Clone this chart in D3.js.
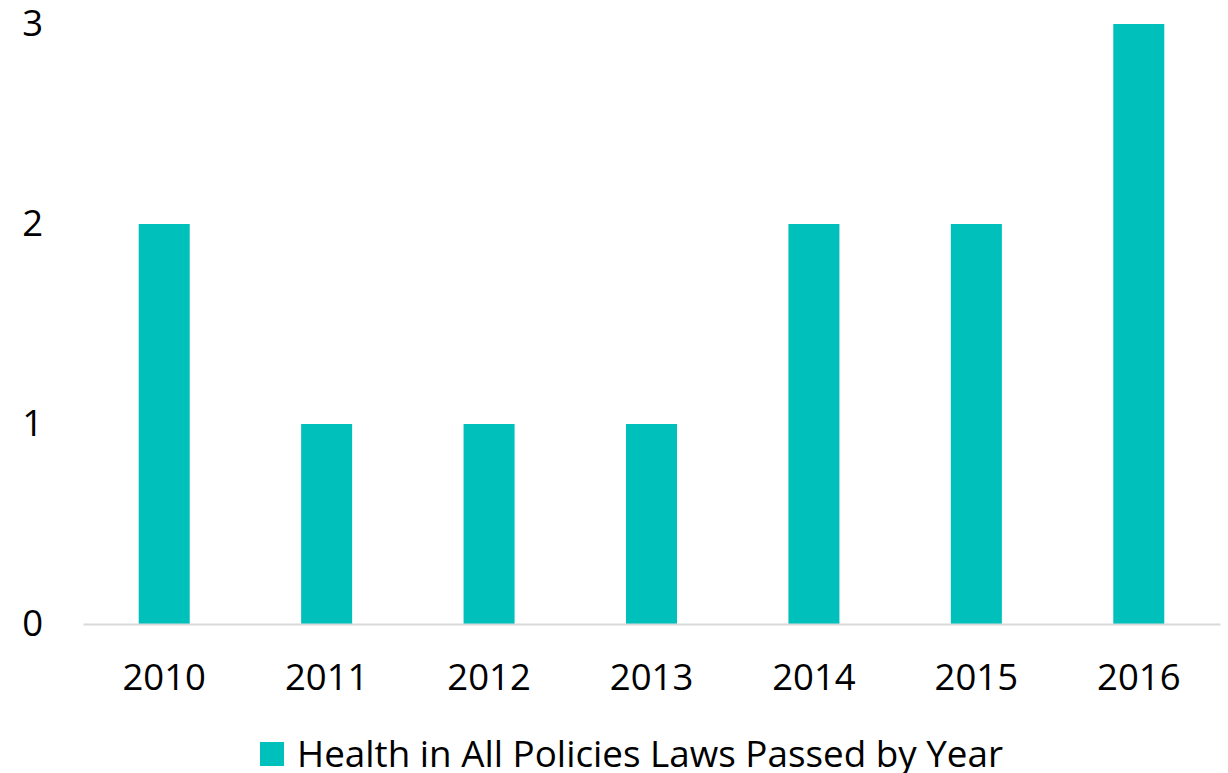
<!DOCTYPE html>
<html>
<head>
<meta charset="utf-8">
<script src="https://cdn.jsdelivr.net/npm/d3@7"></script>
<style>
  html, body { margin: 0; padding: 0; background: #fff; }
  svg text { font-family: "Open Sans", "Noto Sans", sans-serif; fill: #000; }
</style>
</head>
<body>
<svg id="chart" width="1228" height="773"></svg>
<script>
// Health in All Policies laws passed, by year
const years = ["2010", "2011", "2012", "2013", "2014", "2015", "2016"];
const lawsPassed = [2, 1, 1, 1, 2, 2, 3];
const yTicks = [0, 1, 2, 3];
const seriesName = "Health in All Policies Laws Passed by Year";

const barColor = "#00C0BB";
const axisColor = "#D9D9D9";

const svg = d3.select("#chart");
const plot = { left: 83, right: 1220, top: 24, bottom: 624 };

const x = d3.scaleBand()
  .domain(years)
  .range([plot.left, plot.right])
  .paddingInner(0.686)
  .paddingOuter(0.343);

const y = d3.scaleLinear()
  .domain([0, 3])
  .range([plot.bottom, plot.top]);

// bars
svg.append("g")
  .selectAll("rect")
  .data(years.map((yr, i) => ({ yr, v: lawsPassed[i] })))
  .join("rect")
  .attr("x", d => x(d.yr))
  .attr("width", x.bandwidth())
  .attr("y", d => y(d.v))
  .attr("height", d => y(0) - y(d.v))
  .attr("fill", barColor);

// category axis
const xAxis = svg.append("g")
  .attr("transform", `translate(0,${y(0)})`)
  .call(d3.axisBottom(x).tickSize(0).tickPadding(40));
xAxis.select(".domain").attr("stroke", axisColor).attr("stroke-width", 2);
xAxis.selectAll("text")
  .attr("font-size", 36.5)
  .style("font-family", "'Open Sans', sans-serif")
  .attr("fill", "#000");

// value axis (labels only)
const yAxis = svg.append("g")
  .attr("transform", `translate(${plot.left - 40},0)`)
  .call(d3.axisLeft(y).tickValues(yTicks).tickFormat(d3.format("d")).tickSize(0).tickPadding(0));
yAxis.select(".domain").remove();
yAxis.selectAll("text")
  .attr("font-size", 36.5)
  .style("font-family", "'Open Sans', sans-serif")
  .attr("fill", "#000");

// legend
const legend = svg.append("g").attr("transform", "translate(260,742)");
legend.append("rect").attr("width", 24).attr("height", 24).attr("fill", barColor);
legend.append("text")
  .attr("x", 37)
  .attr("y", 12)
  .attr("dy", "0.36em")
  .attr("font-size", 36.8)
  .text(seriesName);
</script>
</body>
</html>
